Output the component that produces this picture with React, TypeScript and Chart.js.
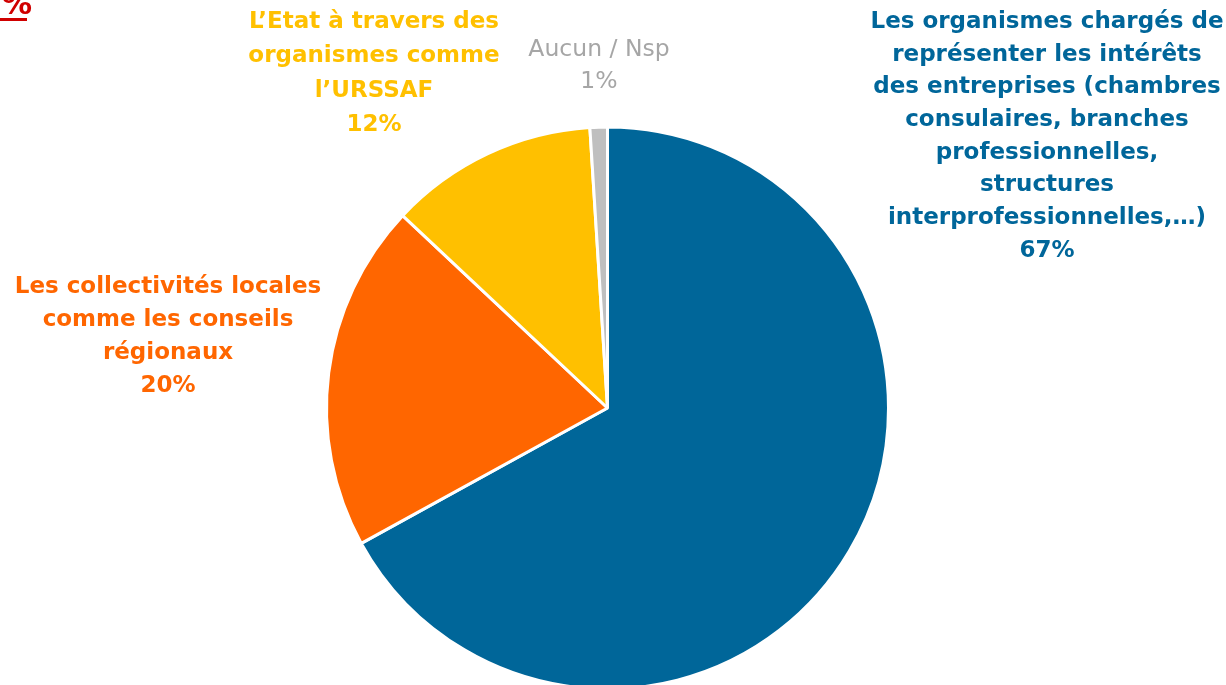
import React, { useEffect, useRef } from "react";
import { Chart, registerables } from "chart.js";

Chart.register(...registerables);

const categories = [
  "Les organismes chargés de représenter les intérêts des entreprises (chambres consulaires, branches professionnelles, structures interprofessionnelles,…)",
  "Les collectivités locales comme les conseils régionaux",
  "L’Etat à travers des organismes comme l’URSSAF",
  "Aucun / Nsp",
];
const values = [67, 20, 12, 1];
const sliceColors = ["#006699", "#FF6600", "#FFC000", "#BFBFBF"];
const labelColors = ["#00669A", "#FF6600", "#FFC000", "#A6A6A6"];
const labelLines = [
  [
    "Les organismes chargés de",
    "représenter les intérêts",
    "des entreprises (chambres",
    "consulaires, branches",
    "professionnelles,",
    "structures",
    "interprofessionnelles,…)",
  ],
  ["Les collectivités locales", "comme les conseils", "régionaux"],
  ["L’Etat à travers des", "organismes comme", "l’URSSAF"],
  ["Aucun / Nsp"],
];

const FONT = '"DejaVu Sans", sans-serif';

// label anchor layout: [centerX, firstLineCenterY, lineHeight, bold, size]
const labelLayout = [
  [1047, 22, 32.7, true, 23],
  [168, 287, 33, true, 23],
  [374, 22, 34.3, true, 23],
  [599, 50, 32, false, 23.5],
];

const labelPlugin = {
  id: "pieLabels",
  afterDraw(chart: any) {
    const ctx = chart.ctx;
    ctx.save();
    ctx.textAlign = "center";
    ctx.textBaseline = "middle";
    labelLines.forEach((lines, i) => {
      const [cx, y0, lh, bold, size] = labelLayout[i] as any;
      ctx.font = `${bold ? "bold " : ""}${size}px ${FONT}`;
      ctx.fillStyle = labelColors[i];
      const all = [...lines, `${values[i]}%`];
      all.forEach((t, j) => ctx.fillText(t, cx, y0 + j * lh));
    });
    // cropped red percent marker at top-left
    ctx.font = `bold 30px ${FONT}`;
    ctx.fillStyle = "#D00000";
    ctx.textAlign = "left";
    ctx.textBaseline = "alphabetic";
    ctx.fillText("%", 2, 14);
    ctx.fillRect(0, 18, 27, 3);
    ctx.restore();
  },
};

export default function App() {
  const ref = useRef<HTMLCanvasElement | null>(null);
  useEffect(() => {
    if (!ref.current) return;
    const chart = new Chart(ref.current, {
      type: "pie",
      data: {
        labels: categories,
        datasets: [
          {
            data: values,
            backgroundColor: sliceColors,
            borderColor: "#FFFFFF",
            borderWidth: 3,
            hoverOffset: 0,
            clip: false as any,
          },
        ],
      },
      options: {
        responsive: false,
        animation: false,
        radius: 281,
        layout: { padding: { left: 0, right: 11, top: 131, bottom: 0 } },
        plugins: {
          legend: { display: false },
          tooltip: { enabled: false },
        },
      } as any,
      plugins: [labelPlugin],
    });
    return () => chart.destroy();
  }, []);
  return (
    <div style={{ position: "absolute", left: 0, top: 0, width: 1226, height: 685, overflow: "hidden", background: "#fff" }}>
      <canvas ref={ref} width={1226} height={685} style={{ display: "block", width: 1226, height: 685 }} />
    </div>
  );
}
